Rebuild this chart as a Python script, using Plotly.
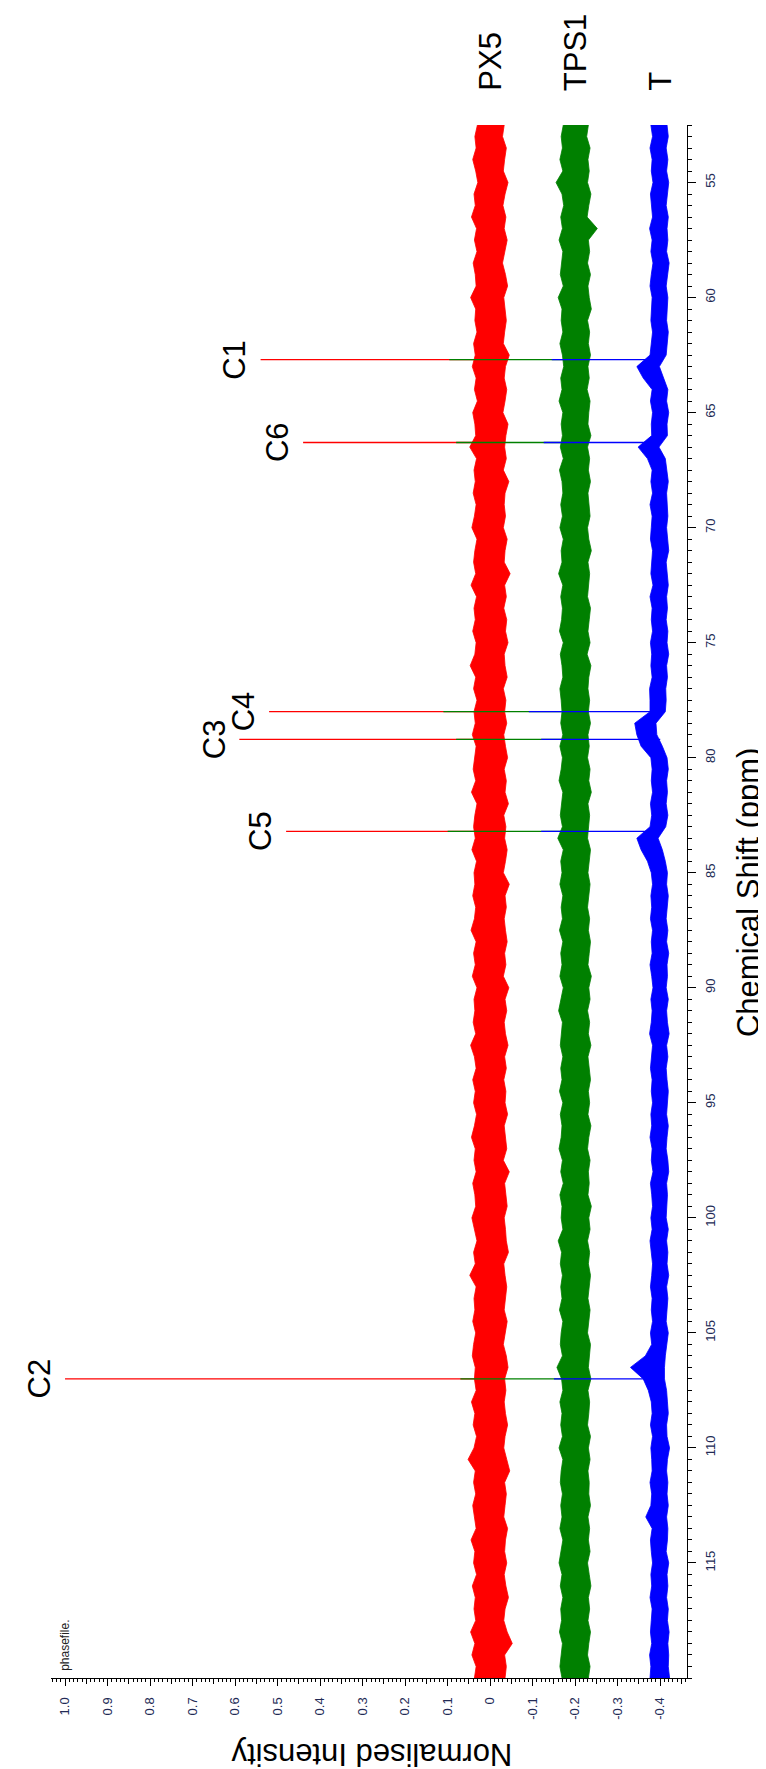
import numpy as np
import plotly.graph_objects as go

# ---------------- data ----------------
series_names = ["PX5", "TPS1", "T"]
series_offsets = [0.0, -0.2, -0.4]
series_colors = ["#ff0000", "#008000", "#0000ff"]

# noise-band envelope sampled every 0.5 ppm from 52.5 to 120 ppm (136 samples)
ppm_grid = np.arange(52.5, 120.01, 0.5)

# band edges in thousandths of normalised intensity, relative to each trace offset
red_hi = [30, 36, 33, 41, 34, 29, 38, 35, 44, 32, 37, 31, 40, 35, 33, 46, 34,
          36, 31, 39, 35, 42, 33, 37, 30, 41, 36, 34, 48, 32, 38, 35, 40, 33,
          37, 43, 31, 36, 39, 34, 45, 32, 38, 35, 41, 33, 36, 47, 34, 39, 31,
          38, 35, 42, 33, 37, 40, 34, 44, 31, 36, 39, 35, 43, 32, 38, 36, 41,
          34, 37, 45, 33, 39, 35, 42, 31, 38, 36, 40, 34, 46, 37, 33, 41, 35,
          39, 32, 37, 44, 35, 38, 33, 41, 36, 34, 43, 37, 31, 39, 35, 48, 33,
          38, 36, 41, 34, 39, 42, 35, 37, 33, 44, 36, 40, 32, 38, 52, 35, 39,
          34, 41, 37, 33, 45, 36, 39, 32, 42, 35, 38, 34, 46, 36, 43, 33, 37]
red_lo = [-33, -29, -38, -34, -31, -42, -35, -30, -37, -33, -40, -34, -29, -36, -41, -32, -35,
          -38, -34, -31, -45, -36, -33, -39, -35, -30, -42, -37, -34, -38, -31, -44, -35, -33,
          -36, -31, -40, -35, -33, -47, -34, -38, -32, -39, -36, -42, -33, -35, -40, -31, -37,
          -34, -39, -32, -36, -41, -33, -38, -35, -43, -32, -37, -34, -40, -36, -31, -45, -35,
          -38, -33, -36, -40, -34, -37, -31, -44, -35, -39, -33, -36, -42, -34, -38, -32, -37,
          -35, -41, -33, -36, -39, -31, -45, -34, -37, -40, -33, -36, -38, -43, -32, -35, -39,
          -36, -33, -40, -35, -31, -38, -42, -34, -37, -33, -36, -41, -35, -32, -39, -46, -34,
          -38, -35, -32, -41, -36, -34, -39, -33, -37, -43, -35, -32, -40, -52, -34, -38, -35]
green_hi = [28, 33, 30, 36, 29, 45, 31, 27, 34, 30, 38, 29, 32, 35, 28, 40, 31,
            33, 29, 36, 30, 27, 34, 31, 38, 29, 33, 30, 35, 28, 37, 31, 29, 34,
            30, 36, 28, 33, 31, 39, 29, 34, 30, 32, 37, 28, 35, 31, 29, 36, 33,
            31, 34, 29, 36, 30, 33, 38, 29, 32, 35, 30, 41, 28, 34, 31, 36, 29,
            33, 30, 37, 29, 34, 31, 36, 28, 33, 39, 30, 32, 35, 29, 34, 31, 37,
            29, 35, 31, 33, 38, 30, 34, 28, 36, 31, 33, 29, 40, 32, 35, 30, 34,
            31, 37, 29, 33, 35, 30, 43, 32, 29, 36, 31, 34, 30, 38, 29, 33, 35,
            30, 34, 31, 36, 29, 33, 38, 31, 35, 29, 34, 32, 37, 30, 33, 36, 31]
green_lo = [-31, -27, -35, -30, -33, -29, -37, -32, -28, -52, -31, -34, -29, -36, -30, -33, -38,
            -29, -34, -31, -36, -30, -33, -28, -35, -32, -30, -37, -29, -34, -31, -36, -30, -33,
            -35, -29, -32, -38, -30, -34, -31, -29, -36, -33, -30, -35, -28, -37, -32, -30, -34,
            -31, -36, -30, -33, -29, -35, -32, -38, -30, -34, -31, -29, -36, -33, -30, -35, -32,
            -29, -34, -31, -36, -33, -30, -38, -32, -35, -29, -34, -31, -37, -30, -33, -36, -31,
            -34, -30, -37, -32, -29, -35, -31, -33, -30, -38, -32, -35, -29, -34, -31, -36, -33,
            -30, -35, -32, -29, -36, -33, -31, -37, -30, -34, -32, -29, -36, -31, -35, -30, -33,
            -32, -36, -30, -34, -31, -35, -29, -33, -37, -31, -34, -30, -36, -32, -29, -35, -31]
blue_hi = [22, 18, 24, 19, 21, 17, 23, 20, 18, 25, 19, 22, 17, 21, 24, 19, 20,
           22, 18, 21, 24, 55, 40, 19, 23, 18, 21, 20, 52, 30, 19, 22, 18, 24,
           19, 21, 23, 18, 20, 22, 17, 24, 19, 21, 18, 23, 20, 22, 19, 25, 24,
           24, 60, 55, 45, 22, 19, 21, 18, 23, 20, 24, 55, 45, 30, 21, 18, 22,
           20, 23, 18, 21, 19, 24, 20, 17, 22, 19, 21, 25, 18, 20, 23, 19, 21,
           18, 22, 20, 24, 19, 21, 17, 23, 20, 18, 22, 19, 24, 21, 18, 20, 23,
           19, 21, 18, 23, 20, 35, 70, 40, 28, 21, 19, 23, 18, 22, 20, 19, 24,
           20, 22, 34, 19, 23, 21, 18, 22, 20, 24, 19, 21, 23, 20, 25, 22, 24]
blue_lo = [-16, -19, -14, -18, -15, -20, -17, -14, -19, -16, -18, -15, -21, -17, -14, -18, -16,
           -15, -19, -17, -14, 2, -8, -18, -15, -20, -16, -17, 3, -12, -16, -19, -15, -17,
           -18, -15, -17, -20, -14, -16, -19, -15, -17, -14, -18, -16, -20, -15, -17, -13, -14,
           -12, 10, 8, -5, -16, -19, -15, -17, -14, -18, -13, 5, -5, -12, -17, -15, -19,
           -16, -14, -18, -15, -20, -16, -17, -14, -19, -15, -17, -21, -15, -18, -14, -16, -19,
           -17, -15, -19, -16, -14, -18, -20, -15, -17, -16, -14, -19, -15, -18, -16, -20, -15,
           -18, -16, -14, -19, -15, -12, -10, -10, -15, -17, -19, -15, -16, -22, -17, -15, -18,
           -16, -19, -15, -18, -17, -14, -20, -16, -18, -15, -19, -17, -21, -18, -20, -19, -22]

band_hi = [red_hi, green_hi, blue_hi]
band_lo = [red_lo, green_lo, blue_lo]

# resolved carbon resonances (ppm) and peak heights above each trace's own baseline
peak_labels = ["C1", "C6", "C4", "C3", "C5", "C2"]
peak_ppm = [62.7, 66.3, 78.0, 79.2, 83.2, 107.0]
red_peak_height = [0.54, 0.44, 0.52, 0.59, 0.48, 1.00]
green_peak_height = [0.296, 0.28, 0.31, 0.28, 0.30, 0.27]
blue_peak_height = [0.255, 0.274, 0.309, 0.28, 0.28, 0.25]
peak_heights = [red_peak_height, green_peak_height, blue_peak_height]

x_tick_vals = [1.0, 0.9, 0.8, 0.7, 0.6, 0.5, 0.4, 0.3, 0.2, 0.1, 0.0, -0.1, -0.2, -0.3, -0.4]
x_tick_text = ["1.0", "0.9", "0.8", "0.7", "0.6", "0.5", "0.4", "0.3", "0.2", "0.1", "0",
               "-0.1", "-0.2", "-0.3", "-0.4"]
y_tick_vals = [55, 60, 65, 70, 75, 80, 85, 90, 95, 100, 105, 110, 115]
y_tick_text = [str(v) for v in y_tick_vals]

# ---------------- figure ----------------
FONT = "Liberation Sans, Arial, sans-serif"
TICKCOL = "#222a55"
fig = go.Figure()

for name, off, col, hi, lo, heights in zip(series_names, series_offsets, series_colors,
                                           band_hi, band_lo, peak_heights):
    hi_x = [off + v / 1000.0 for v in hi]
    lo_x = [off + v / 1000.0 for v in lo]
    poly_x = hi_x + lo_x[::-1]
    poly_y = list(ppm_grid) + list(ppm_grid[::-1])
    fig.add_trace(go.Scatter(x=poly_x, y=poly_y, mode="lines", fill="toself",
                             fillcolor=col, line=dict(color=col, width=0.8),
                             hoverinfo="skip", showlegend=False, name=name))
    px, py = [], []
    for p, h in zip(peak_ppm, heights):
        px += [off, off + h, None]
        py += [p, p, None]
    fig.add_trace(go.Scatter(x=px, y=py, mode="lines", line=dict(color=col, width=1.3),
                             hoverinfo="skip", showlegend=False, name=name + " peaks"))

# dummy trace for the mid-tick overlay axis
fig.add_trace(go.Scatter(x=[0.5], y=[80], xaxis="x2", mode="markers",
                         marker=dict(opacity=0), hoverinfo="skip", showlegend=False))

annotations = []
for name, off in zip(series_names, series_offsets):
    annotations.append(dict(text=name, x=off, xref="x", y=1.0206, yref="paper",
                            xanchor="center", yanchor="bottom", textangle=-90,
                            showarrow=False, font=dict(family=FONT, size=31, color="black")))
for lab, p, h in zip(peak_labels, peak_ppm, red_peak_height):
    annotations.append(dict(text=lab, x=h, xref="x", y=p, yref="y",
                            xanchor="right", yanchor="middle", xshift=-6, textangle=-90,
                            showarrow=False, font=dict(family=FONT, size=31, color="black")))
annotations.append(dict(text="Chemical Shift (ppm)", x=1.065, xref="paper", y=0.506, yref="paper",
                        xanchor="left", yanchor="middle", textangle=-90, showarrow=False,
                        font=dict(family=FONT, size=31, color="black")))
annotations.append(dict(text="Normalised Intensity", x=0.505, xref="paper", y=-0.0496, yref="paper",
                        xanchor="center", yanchor="middle", textangle=180, showarrow=False,
                        font=dict(family=FONT, size=31, color="black")))
annotations.append(dict(text="phasefile.", x=1.0, xref="x", y=0.003, yref="paper",
                        xanchor="center", yanchor="bottom", textangle=-90, showarrow=False,
                        font=dict(family=FONT, size=12, color="#222222")))

x_range = [1.033, -0.463]
fig.update_layout(
    width=766, height=1769,
    margin=dict(l=43, r=87, t=117, b=99),
    paper_bgcolor="white", plot_bgcolor="white",
    showlegend=False,
    annotations=annotations,
    xaxis=dict(range=x_range, showgrid=False, zeroline=False, showline=True,
               linecolor="black", linewidth=1.3, ticks="outside", ticklen=7,
               tickwidth=1.2, tickcolor="black", tickvals=x_tick_vals, ticktext=x_tick_text,
               tickangle=-90, ticklabelstandoff=6,
               tickfont=dict(family=FONT, size=13, color=TICKCOL),
               minor=dict(dtick=0.01, tick0=0, ticks="outside", ticklen=3, tickcolor="black",
                          tickwidth=1)),
    xaxis2=dict(range=x_range, overlaying="x", anchor="y", side="bottom",
                showgrid=False, zeroline=False, showline=False, showticklabels=False,
                ticks="outside", ticklen=5, tickwidth=1, tickcolor="black",
                tickmode="linear", tick0=0.05, dtick=0.1),
    yaxis=dict(range=[120, 52.5], side="right", showgrid=False, zeroline=False,
               showline=True, linecolor="black", linewidth=1.3, ticks="outside",
               ticklen=8, tickwidth=1.2, tickcolor="black", tickvals=y_tick_vals,
               ticktext=y_tick_text, tickangle=-90, ticklabelstandoff=3,
               tickfont=dict(family=FONT, size=13, color=TICKCOL),
               minor=dict(dtick=0.5, tick0=0, ticks="outside", ticklen=4, tickcolor="black",
                          tickwidth=1)),
)

fig.write_html("out.html")
